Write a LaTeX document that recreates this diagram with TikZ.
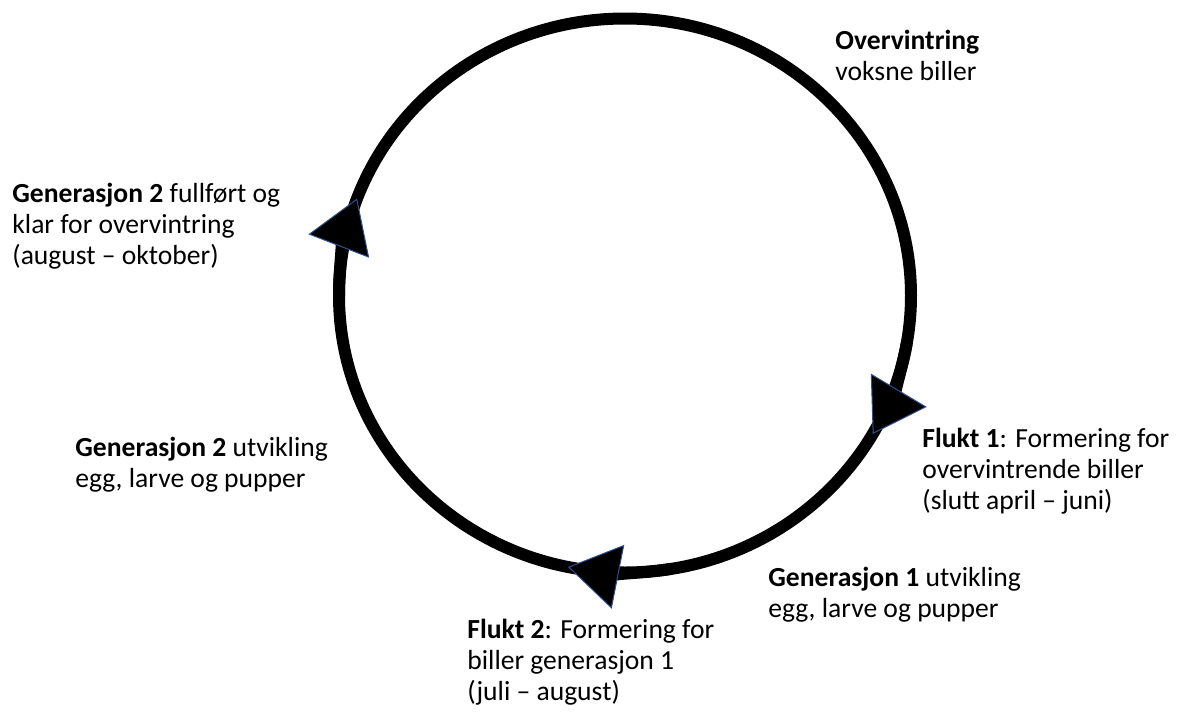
\documentclass[tikz,border=0pt]{standalone}
\usepackage{fontspec}
\setmainfont{Carlito}
\usetikzlibrary{arrows.meta}

\definecolor{tipedge}{RGB}{47,82,143}
\tikzset{
  lbl/.style={anchor=base west,align=left,inner sep=0pt,font=\fontsize{13.8}{15.5}\selectfont},
  ring/.style={line width=6pt},
  tri/.tip={Triangle[length=25.5pt,width=32.5pt,line width=0.5pt,color=tipedge,fill=black]},
}

\begin{document}
\begin{tikzpicture}[x=0.5pt,y=-0.5pt]
	\useasboundingbox (0,0) rectangle (1180,718);
	\coordinate(c) at (625,295.5);

	% life cycle, running clockwise
	\draw[ring] (c) ellipse [x radius=286,y radius=277];
	\draw[ring,-tri] ([shift={(10:286 and 277)}]c) arc[start angle=10,end angle=30,x radius=286,y radius=277];
	\draw[ring,-tri] ([shift={(81:286 and 277)}]c) arc[start angle=81,end angle=101.5,x radius=286,y radius=277];
	\draw[ring,-tri] ([shift={(180:286 and 277)}]c) arc[start angle=180,end angle=200.5,x radius=286,y radius=277];

	% labels, placed by the baseline of their last line
	\node[lbl] (ovw) at (835,80) {\textbf{Overvintring}\\voksne biller};
	\node[lbl] (fl1) at (922,509) {\textbf{Flukt 1}: Formering for\\overvintrende biller\\(slutt april – juni)};
	\node[lbl] (gen1) at (768,617) {\textbf{Generasjon 1} utvikling\\egg, larve og pupper};
	\node[lbl] (fl2) at (467,700) {\textbf{Flukt 2}: Formering for\\biller generasjon 1\\(juli – august)};
	\node[lbl] (gen2) at (75,487) {\textbf{Generasjon 2} utvikling\\egg, larve og pupper};
	\node[lbl] (klar) at (12,264) {\textbf{Generasjon 2} fullført og\\klar for overvintring\\(august – oktober)};
\end{tikzpicture}
\end{document}
